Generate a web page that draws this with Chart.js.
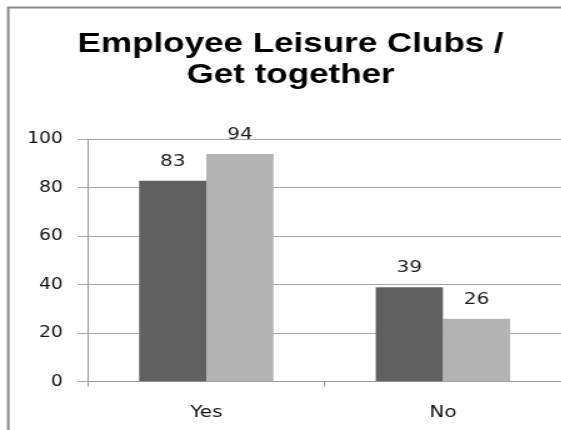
<!DOCTYPE html>
<html>
<head>
<meta charset="utf-8">
<script src="https://cdn.jsdelivr.net/npm/chart.js@4"></script>
<style>
  html, body { margin: 0; padding: 0; background: #fff; overflow: hidden; }
  /* the chart is laid out narrow and widened horizontally */
  #wrap { width: 449px; height: 430px; transform: scaleX(1.25); transform-origin: 0 0; }
  #chart { display: block; }
</style>
</head>
<body>
<div id="wrap"><canvas id="chart" width="449" height="430"></canvas></div>
<script>
const titleLines = ['Employee Leisure Clubs /', 'Get together'];
const categories = ['Yes', 'No'];
const seriesA = [83, 39];
const seriesB = [94, 26];
const yTicks = [0, 20, 40, 60, 80, 100];

// Value labels above each bar
const valueLabels = {
  id: 'valueLabels',
  afterDatasetsDraw(chart) {
    const ctx = chart.ctx;
    ctx.save();
    ctx.font = '16px "DejaVu Sans"';
    ctx.fillStyle = '#1a1a1a';
    ctx.textAlign = 'center';
    ctx.textBaseline = 'alphabetic';
    chart.data.datasets.forEach((ds, i) => {
      chart.getDatasetMeta(i).data.forEach((bar, j) => {
        ctx.fillText(String(ds.data[j]), bar.x, bar.y - 15);
      });
    });
    ctx.restore();
  }
};

// Frame around the chart (left and top edges)
const frame = {
  id: 'frame',
  beforeDraw(chart) {
    const ctx = chart.ctx;
    ctx.save();
    ctx.strokeStyle = '#8a8a8a';
    ctx.lineWidth = 2;
    ctx.beginPath();
    ctx.moveTo(6.6, chart.height);
    ctx.lineTo(6.6, 7.5);
    ctx.lineTo(chart.width, 7.5);
    ctx.stroke();
    ctx.restore();
  }
};

new Chart(document.getElementById('chart'), {
  type: 'bar',
  data: {
    labels: categories,
    datasets: [
      { data: seriesA, backgroundColor: '#606060', borderWidth: 0 },
      { data: seriesB, backgroundColor: '#b3b3b3', borderWidth: 0 }
    ]
  },
  options: {
    responsive: false,
    animation: false,
    layout: { padding: { left: 16, right: 0, top: 0, bottom: 0 } },
    datasets: { bar: { barPercentage: 1, categoryPercentage: 0.568 } },
    plugins: {
      legend: { display: false },
      tooltip: { enabled: false },
      title: {
        display: true,
        text: titleLines,
        color: '#000',
        font: { family: '"Liberation Sans"', size: 28, weight: 'bold', lineHeight: 1.107 },
        padding: { top: 29, bottom: 48.5 }
      }
    },
    scales: {
      x: {
        offset: true,
        afterFit(scale) { scale.height = 48.3; },
        grid: { offset: true, drawOnChartArea: false, drawTicks: true, tickLength: 5, color: '#9a9a9a' },
        border: { display: true, color: '#9a9a9a' },
        ticks: { color: '#111', font: { family: '"DejaVu Sans"', size: 16 }, padding: 17 }
      },
      y: {
        min: 0,
        max: 100,
        afterBuildTicks(scale) { scale.ticks = yTicks.map(v => ({ value: v })); },
        afterFit(scale) { scale.width = 54.4; },
        grid: { color: '#a6a6a6', tickLength: 8 },
        border: { display: true, color: '#9a9a9a' },
        ticks: { color: '#111', font: { family: '"DejaVu Sans"', size: 15 }, padding: 12 }
      }
    }
  },
  plugins: [valueLabels, frame]
});
</script>
</body>
</html>
